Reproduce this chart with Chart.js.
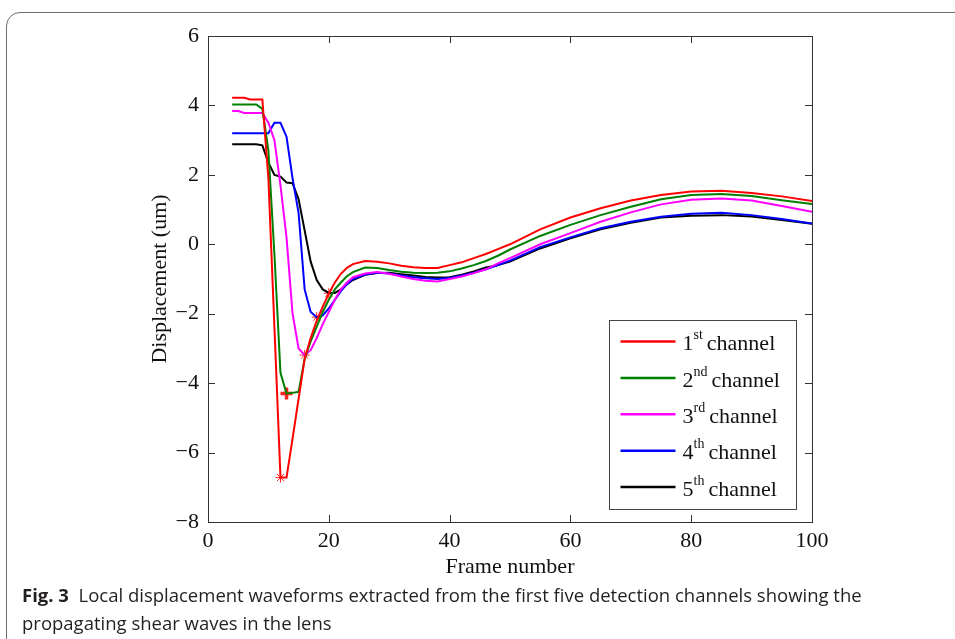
<!DOCTYPE html>
<html>
<head>
<meta charset="utf-8">
<script src="https://cdn.jsdelivr.net/npm/chart.js@4.4.1/dist/chart.umd.min.js"></script>
<style>
  html, body { margin: 0; padding: 0; background: #fff; }
  body { width: 955px; height: 639px; position: relative; overflow: hidden; }
  .frame { position: absolute; left: 6px; top: 12px; width: 1000px; height: 700px;
           border: 1.5px solid #6e6e6e; border-radius: 14px; }
  #wrap { position: absolute; left: 0; top: 0; width: 955px; height: 582px; }
  .caption { position: absolute; left: 22px; top: 581px; font-family: 'Open Sans', sans-serif;
             font-size: 18.5px; line-height: 28px; color: #231f20; white-space: nowrap; }
  .caption b { font-weight: 700; }
</style>
</head>
<body>
<div class="frame"></div>
<div id="wrap"><canvas id="chart"></canvas></div>
<div class="caption"><b>Fig. 3</b>&nbsp; Local displacement waveforms extracted from the first five detection channels showing the<br>propagating shear waves in the lens</div>
<script>
// frame numbers (x) shared by all channels
const frames = [4, 5, 6, 7, 8, 9, 10, 11, 12, 13, 14, 15, 16, 17, 18, 19, 20, 21, 22, 23, 24,
  26, 28, 30, 32, 34, 36, 38, 40, 42, 44, 46, 48, 50,
  55, 60, 65, 70, 75, 80, 85, 90, 95, 100];

const ch1 = [4.22, 4.22, 4.22, 4.17, 4.17, 4.17, 1.9, -2.4, -6.72, -6.72, -5.6, -4.45, -3.3, -2.7, -2.2, -1.8, -1.42, -1.1, -0.85, -0.68, -0.57,
  -0.48, -0.5, -0.55, -0.62, -0.66, -0.68, -0.68, -0.6, -0.52, -0.4, -0.28, -0.14, 0.0,
  0.43, 0.77, 1.04, 1.26, 1.42, 1.52, 1.54, 1.48, 1.38, 1.25];
const ch2 = [4.03, 4.03, 4.03, 4.03, 4.03, 3.9, 2.7, -0.3, -3.7, -4.3, -4.28, -4.25, -3.3, -2.8, -2.37, -1.95, -1.6, -1.3, -1.1, -0.92, -0.8,
  -0.67, -0.68, -0.74, -0.79, -0.82, -0.83, -0.82, -0.78, -0.7, -0.6, -0.48, -0.33, -0.15,
  0.24, 0.56, 0.84, 1.08, 1.3, 1.42, 1.45, 1.39, 1.27, 1.16];
const ch3 = [3.84, 3.84, 3.78, 3.78, 3.78, 3.78, 3.5, 3.0, 1.7, 0.2, -2.0, -3.0, -3.19, -3.05, -2.7, -2.3, -1.95, -1.6, -1.3, -1.1, -0.95,
  -0.84, -0.8, -0.85, -0.93, -1.0, -1.05, -1.07, -1.0, -0.93, -0.83, -0.72, -0.55, -0.4,
  0.0, 0.32, 0.65, 0.92, 1.15, 1.28, 1.32, 1.26, 1.1, 0.94];
const ch4 = [3.2, 3.2, 3.2, 3.2, 3.2, 3.2, 3.2, 3.5, 3.5, 3.1, 1.9, 0.9, -1.3, -1.95, -2.1, -2.05, -1.85, -1.6, -1.35, -1.15, -1.0,
  -0.87, -0.82, -0.84, -0.9, -0.95, -0.98, -1.0, -0.97, -0.9, -0.82, -0.72, -0.6, -0.47,
  -0.08, 0.2, 0.46, 0.65, 0.79, 0.88, 0.91, 0.84, 0.73, 0.6];
const ch5 = [2.88, 2.88, 2.88, 2.88, 2.88, 2.85, 2.35, 2.0, 1.95, 1.78, 1.76, 1.3, 0.4, -0.5, -1.03, -1.3, -1.4, -1.4, -1.3, -1.15, -1.03,
  -0.88, -0.83, -0.82, -0.86, -0.9, -0.94, -0.96, -0.95, -0.88, -0.78, -0.67, -0.6, -0.5,
  -0.12, 0.17, 0.43, 0.62, 0.77, 0.82, 0.84, 0.8, 0.7, 0.59];

// minimum of each channel, marked with red asterisks
const peakFrames = [12, 13, 16, 18, 20];
const peakValues = [-6.72, -4.3, -3.19, -2.1, -1.41];

const channelNames = ['1', '2', '3', '4', '5'];
const channelSups = ['st', 'nd', 'rd', 'th', 'th'];
const colors = ['#ff0000', '#008000', '#ff00ff', '#0000ff', '#000000'];

const xTicks = [0, 20, 40, 60, 80, 100];
const yTicks = [-8, -6, -4, -2, 0, 2, 4, 6];

const serif = "'Liberation Serif', 'Times New Roman', serif";

function pts(ys) {
  return frames.map((f, i) => ({ x: f, y: ys[i] }));
}

// box round the plot with inward ticks on all four sides, plus the legend
const boxTicks = {
  id: 'boxTicks',
  afterDraw(chart) {
    const { ctx, chartArea: a, scales } = chart;
    ctx.save();
    ctx.strokeStyle = '#333';
    ctx.lineWidth = 1;
    ctx.strokeRect(Math.round(a.left) + 0.5, Math.round(a.top) + 0.5,
      Math.round(a.right - a.left), Math.round(a.bottom - a.top));
    const len = 7;
    ctx.beginPath();
    xTicks.forEach(v => {
      const x = Math.round(scales.x.getPixelForValue(v)) + 0.5;
      ctx.moveTo(x, a.bottom); ctx.lineTo(x, a.bottom - len);
      ctx.moveTo(x, a.top); ctx.lineTo(x, a.top + len);
    });
    yTicks.forEach(v => {
      const y = Math.round(scales.y.getPixelForValue(v)) + 0.5;
      ctx.moveTo(a.left, y); ctx.lineTo(a.left + len, y);
      ctx.moveTo(a.right, y); ctx.lineTo(a.right - len, y);
    });
    ctx.stroke();

    // legend
    const w = 187, h = 189;
    const bx = Math.round(a.right - 16 - w) + 0.5;
    const by = Math.round(a.bottom - 13 - h) + 0.5;
    ctx.fillStyle = '#fff';
    ctx.fillRect(bx, by, w, h);
    ctx.strokeStyle = '#444';
    ctx.strokeRect(bx, by, w, h);
    channelNames.forEach((n, i) => {
      const y = by + 21 + i * 36.4;
      ctx.strokeStyle = colors[i];
      ctx.lineWidth = 2.5;
      ctx.beginPath();
      ctx.moveTo(bx + 11, y); ctx.lineTo(bx + 66, y);
      ctx.stroke();
      ctx.fillStyle = '#111';
      ctx.textBaseline = 'middle';
      ctx.textAlign = 'left';
      let tx = bx + 73;
      ctx.font = '22px ' + serif;
      ctx.fillText(n, tx, y + 3);
      tx += ctx.measureText(n).width;
      ctx.font = '14px ' + serif;
      ctx.fillText(channelSups[i], tx, y - 6);
      tx += ctx.measureText(channelSups[i]).width + 4;
      ctx.font = '22px ' + serif;
      ctx.fillText('channel', tx, y + 3);
    });
    ctx.restore();
  }
};

const datasets = [ch1, ch2, ch3, ch4, ch5].map((d, i) => ({
  label: channelNames[i] + channelSups[i] + ' channel',
  data: pts(d),
  borderColor: colors[i],
  borderWidth: 2,
  pointRadius: 0,
  fill: false,
  tension: 0
}));

datasets.push({
  label: 'minima',
  type: 'scatter',
  data: peakFrames.map((f, i) => ({ x: f, y: peakValues[i] })),
  showLine: false,
  borderColor: '#ff2020',
  backgroundColor: '#ff2020',
  pointStyle: ['star', 'cross', 'star', 'star', 'star'],
  pointRadius: [5, 6, 5, 5, 5],
  pointBorderWidth: [1, 3.5, 1, 1, 1]
});

new Chart(document.getElementById('chart'), {
  type: 'line',
  data: { datasets },
  options: {
    responsive: true,
    maintainAspectRatio: false,
    animation: false,
    layout: { padding: { left: 147, right: 143, top: 36, bottom: 0 } },
    plugins: { legend: { display: false }, tooltip: { enabled: false } },
    scales: {
      x: {
        type: 'linear',
        min: 0, max: 100,
        afterBuildTicks: s => { s.ticks = xTicks.map(v => ({ value: v })); },
        afterFit: s => { s.height = 60; },
        grid: { display: false, drawTicks: false },
        border: { display: false },
        ticks: { color: '#111', font: { family: serif, size: 22 }, padding: 6, maxRotation: 0 },
        title: { display: true, text: 'Frame number', color: '#111',
                 font: { family: serif, size: 22 }, padding: { top: 0, bottom: 2 } }
      },
      y: {
        type: 'linear',
        min: -8, max: 6,
        afterBuildTicks: s => { s.ticks = yTicks.map(v => ({ value: v })); },
        afterFit: s => { s.width = 61; },
        grid: { display: false, drawTicks: false },
        border: { display: false },
        ticks: { color: '#111', font: { family: serif, size: 22 }, padding: 9,
                 callback: v => v < 0 ? '\u2212' + Math.abs(v) : String(v) },
        title: { display: true, text: 'Displacement (um)', color: '#111',
                 font: { family: serif, size: 22 }, padding: { top: 0, bottom: 4 } }
      }
    }
  },
  plugins: [boxTicks]
});
</script>
</body>
</html>
